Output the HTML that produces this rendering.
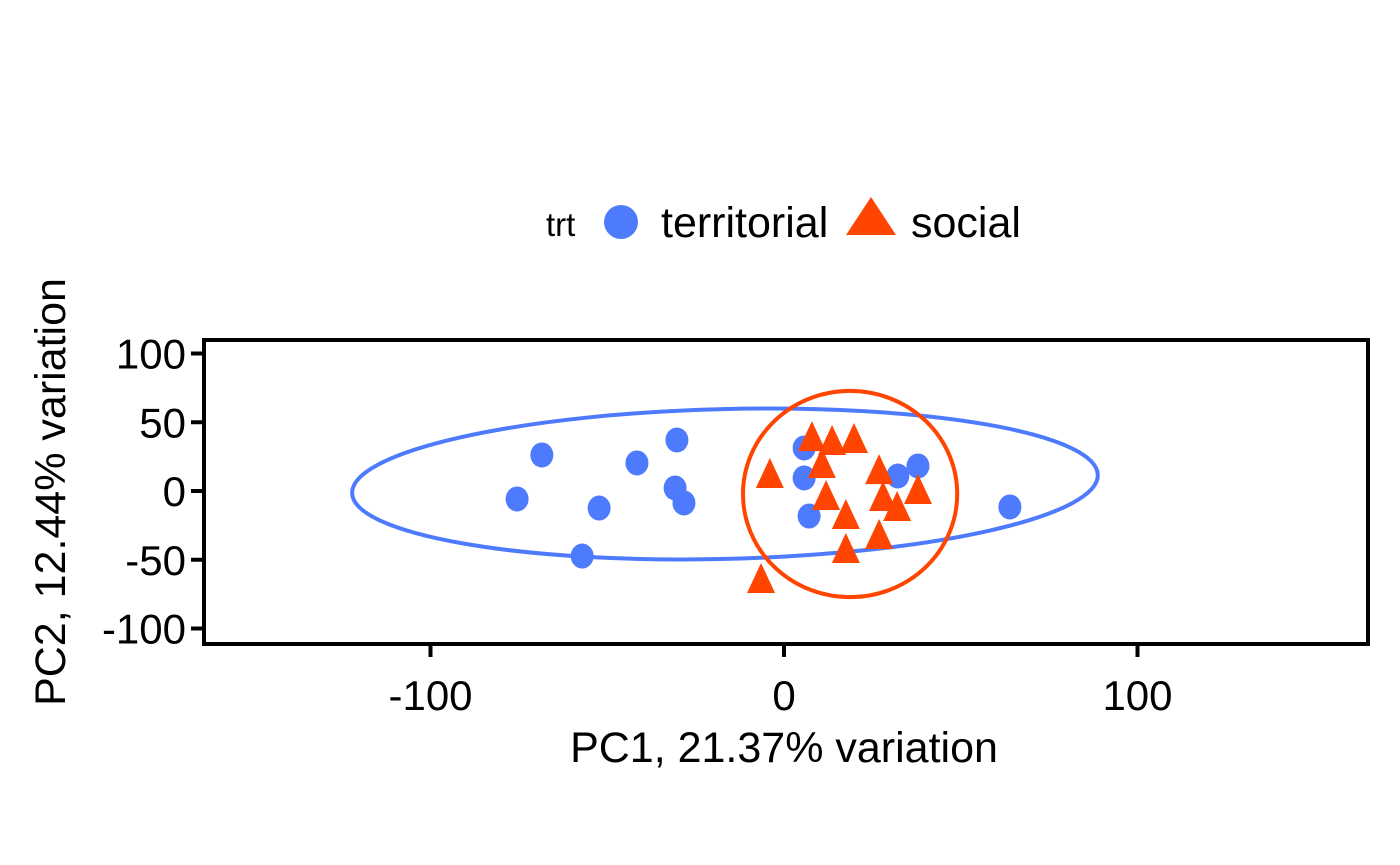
<!DOCTYPE html>
<html><head><meta charset="utf-8"><style>
html,body{margin:0;padding:0;background:#fff;}
svg{display:block;font-family:"Liberation Sans",Arial,sans-serif;}
</style></head><body>
<svg id="chart" width="1400" height="865">
<g>
<text x="546" y="236" font-size="33">trt</text>
<circle cx="621" cy="222" r="17" fill="#4E7BFE"/>
<text x="661" y="237" font-size="43">territorial</text>
<polygon points="871,197 896,235 846,235" fill="#FF4500"/>
<text x="911" y="237" font-size="43">social</text>
</g>
<g id="plot"></g>
<rect x="204" y="340" width="1164" height="304" fill="none" stroke="#000" stroke-width="4"/>
<text x="784" y="762" font-size="43" text-anchor="middle">PC1, 21.37% variation</text>
<text transform="translate(65,492) rotate(-90)" font-size="43" text-anchor="middle">PC2, 12.44% variation</text>
</svg>
<script>
const xTicks=[-100,0,100];
const yTicks=[100,50,0,-50,-100];
const terrX=[-75.5,-68.5,-52.3,-41.6,-30.3,-30.8,-28.3,-57.1,5.7,5.7,7.1,32.2,37.9,63.9];
const terrY=[-5.8,26.2,-12.4,20.4,37.1,2.2,-8.7,-47.3,31.3,9.5,-18.2,10.9,18.2,-11.6];
const socX=[7.9,13.6,19.8,10.7,-4.0,11.9,26.9,28.0,32.0,37.9,17.5,26.9,17.5,-6.5];
const socY=[38.5,35.6,37.1,18.9,11.6,-4.4,14.5,-5.1,-12.4,0,-18.2,-32.7,-42.9,-64.7];
const terrEllipse=[-16.7,5.1,105.5,54.5];
const socEllipse=[18.7,-2.2,30.3,75];
const sx=v=>784+v*3.535, sy=v=>491-v*1.375;
const NS='http://www.w3.org/2000/svg';
const g=document.getElementById('plot');
function mk(t,a,p){const e=document.createElementNS(NS,t);for(const k in a)e.setAttribute(k,a[k]);(p||g).appendChild(e);return e;}
xTicks.forEach(v=>{
 const l=mk('line',{x1:sx(v),x2:sx(v),y1:644,y2:657,stroke:'#000','stroke-width':4});
 
 
 const t=mk('text',{x:sx(v),y:710,'font-size':42,'text-anchor':'middle'});t.textContent=v;
 
 
});
yTicks.forEach(v=>{
 const l=mk('line',{x1:191,x2:204,y1:sy(v),y2:sy(v),stroke:'#000','stroke-width':4});
 
 
 const t=mk('text',{x:186,y:sy(v)+15,'font-size':42,'text-anchor':'end'});t.textContent=v;
 
 
});
function ell(p,col,rot,name){
 const cx=sx(p[0]),cy=sy(p[1]);
 const e=mk('ellipse',{cx:cx,cy:cy,rx:p[2]*3.535,ry:p[3]*1.375,fill:'none',stroke:col,'stroke-width':4,transform:`rotate(${rot} ${cx} ${cy})`});
 
 
}
ell(terrEllipse,'#4E7BFE',-1.4,'territorial-ellipse');
ell(socEllipse,'#FF4500',0,'social-ellipse');
terrX.forEach((v,i)=>{
 const c=mk('ellipse',{cx:sx(v),cy:sy(terrY[i]),rx:11.5,ry:12.5,fill:'#4E7BFE'});
 
 
});
socX.forEach((v,i)=>{
 const x=sx(v),y=sy(socY[i]);
 const p=mk('polygon',{points:`${x},${y-17} ${x+14},${y+13} ${x-14},${y+13}`,fill:'#FF4500'});
 
 
});
</script>
</body></html>
